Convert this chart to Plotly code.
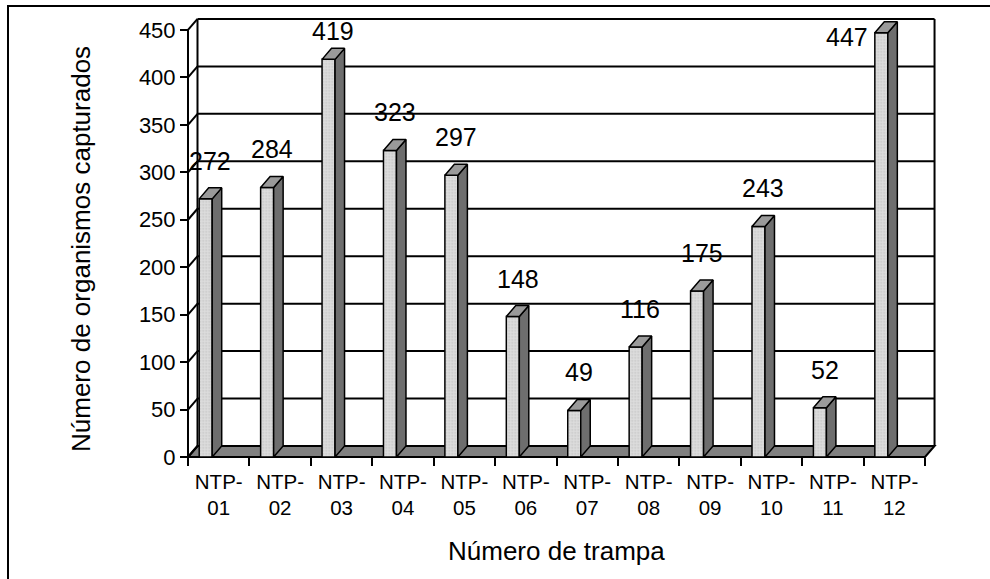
import plotly.graph_objects as go

# ---- data ----
categories = ["NTP-01", "NTP-02", "NTP-03", "NTP-04", "NTP-05", "NTP-06",
              "NTP-07", "NTP-08", "NTP-09", "NTP-10", "NTP-11", "NTP-12"]
counts = [272, 284, 419, 323, 297, 148, 49, 116, 175, 243, 52, 447]
y_ticks = [0, 50, 100, 150, 200, 250, 300, 350, 400, 450]
y_title = "Número de organismos capturados"
x_title = "Número de trampa"

# ---- geometry (pixel calibration of the pseudo-3D frame) ----
W, H = 990, 579
X0PX, PXX = 188.0, 61.42     # px of x=-0.5, px per category
Y0PX, PXY = 457.0, 0.949     # px of y=0, px per unit
DX = 9.5 / PXX               # depth offset in x units
DY = 11.0 / PXY              # depth offset in y units
FRONT_OFF = -13.0 / PXX      # bar front-face centre offset from category centre
BAR_W = 13.0 / PXX           # bar front-face width
LABEL_GAP = 38               # px from column front top to label centre
LABEL_MIN_PX = 31            # highest allowed label centre (px from top)

n = len(categories)
xs = list(range(n))
ytop = max(y_ticks)
xr = [-0.62, n - 0.5 + DX + 0.1]
yr = [-10, ytop + DY + 8]


def px_x(v):
    return X0PX + (v + 0.5) * PXX


def px_y(v):
    return Y0PX - v * PXY


dom_x = [px_x(xr[0]) / W, px_x(xr[1]) / W]
dom_y = [1 - px_y(yr[0]) / H, 1 - px_y(yr[1]) / H]

FONT = "Liberation Sans, Arial, sans-serif"
LW = 2

shapes = []
xl, xrgt = -0.5, n - 0.5
# floor
shapes.append(dict(type="path", xref="x", yref="y", layer="below",
                   path=f"M {xl},0 L {xrgt},0 L {xrgt+DX},{DY} L {xl+DX},{DY} Z",
                   fillcolor="#808080", line=dict(color="black", width=LW)))
# back wall gridlines
for g in y_ticks[1:]:
    shapes.append(dict(type="line", xref="x", yref="y", layer="below",
                       x0=xl + DX, x1=xrgt + DX, y0=g + DY, y1=g + DY,
                       line=dict(color="black", width=LW)))
# back wall edges
for xe in (xl + DX, xrgt + DX):
    shapes.append(dict(type="line", xref="x", yref="y", layer="below",
                       x0=xe, x1=xe, y0=DY, y1=ytop + DY,
                       line=dict(color="black", width=LW)))
# left wall front edge
shapes.append(dict(type="line", xref="x", yref="y", layer="below",
                   x0=xl, x1=xl, y0=0, y1=ytop,
                   line=dict(color="black", width=LW)))
# left wall diagonals
for g in y_ticks:
    shapes.append(dict(type="line", xref="x", yref="y", layer="below",
                       x0=xl, x1=xl + DX, y0=g, y1=g + DY,
                       line=dict(color="black", width=LW)))
# outer chart border
shapes.append(dict(type="rect", xref="paper", yref="paper",
                   x0=8 / W, x1=1.05, y0=-0.05, y1=1 - 6 / H,
                   line=dict(color="black", width=LW), layer="below"))

fig = go.Figure()

# front faces of the columns
fig.add_trace(go.Bar(
    x=[i + FRONT_OFF for i in xs], y=counts, width=BAR_W,
    marker=dict(color="#d6d6d6", line=dict(color="black", width=1.5),
                pattern=dict(shape=".", fgcolor="#a8a8a8", bgcolor="#dcdcdc",
                             size=3, solidity=0.25)),
    hoverinfo="skip", showlegend=False))

# side and top faces
sx, sy = [], []
tx, ty = [], []
for i, v in zip(xs, counts):
    x0 = i + FRONT_OFF - BAR_W / 2
    x1 = i + FRONT_OFF + BAR_W / 2
    sx += [x1, x1 + DX, x1 + DX, x1, x1, None]
    sy += [0, DY, v + DY, v, 0, None]
    tx += [x0, x1, x1 + DX, x0 + DX, x0, None]
    ty += [v, v, v + DY, v + DY, v, None]
fig.add_trace(go.Scatter(x=sx, y=sy, mode="lines", fill="toself",
                         fillcolor="#6e6e6e", line=dict(color="black", width=1.5),
                         hoverinfo="skip", showlegend=False))
fig.add_trace(go.Scatter(x=tx, y=ty, mode="lines", fill="toself",
                         fillcolor="#9a9a9a", line=dict(color="black", width=1.5),
                         hoverinfo="skip", showlegend=False))

# dummy trace for label axis
fig.add_trace(go.Scatter(x=xs, y=[None] * n, xaxis="x2", yaxis="y",
                         mode="markers", hoverinfo="skip", showlegend=False))

# data labels
LABEL_FONT = dict(family=FONT, size=25, color="black")
annotations = []
for i, v in zip(xs, counts):
    x0 = i + FRONT_OFF - BAR_W / 2
    centre_px = px_y(v) - LABEL_GAP
    if centre_px < LABEL_MIN_PX - 20:
        # no room above: place beside the column (left)
        annotations.append(dict(x=x0, y=v, xref="x", yref="y", text=str(v),
                                showarrow=False, xanchor="right", yanchor="middle",
                                xshift=-5, yshift=-4, font=LABEL_FONT))
    else:
        gap = LABEL_GAP - max(0, LABEL_MIN_PX - centre_px)
        annotations.append(dict(x=i + FRONT_OFF + DX / 2, y=v + DY, xref="x", yref="y",
                                text=str(v), showarrow=False,
                                xanchor="center", yanchor="middle",
                                yshift=gap - DY * PXY, font=LABEL_FONT))
# axis titles
TITLE_FONT = dict(family=FONT, size=26, color="black")
annotations.append(dict(x=81 / W, y=1 - 249 / H, xref="paper", yref="paper",
                        text=y_title, textangle=-90, showarrow=False,
                        xanchor="center", yanchor="middle", font=TITLE_FONT))
annotations.append(dict(x=556 / W, y=1 - 551 / H, xref="paper", yref="paper",
                        text=x_title, showarrow=False,
                        xanchor="center", yanchor="middle", font=TITLE_FONT))

ticklabels = [c.replace("-", "-<br>") for c in categories]

fig.update_layout(
    width=W, height=H,
    margin=dict(l=0, r=0, t=0, b=0, autoexpand=False),
    paper_bgcolor="white", plot_bgcolor="rgba(0,0,0,0)",
    font=dict(family=FONT, color="black"),
    shapes=shapes, annotations=annotations, showlegend=False,
    bargap=0,
    xaxis=dict(domain=dom_x, range=xr, anchor="free", position=1 - Y0PX / H,
               tickmode="array", tickvals=[i - 0.5 for i in range(n + 1)],
               showticklabels=False, ticks="outside", ticklen=8, tickwidth=2,
               tickcolor="black", showgrid=False, zeroline=False, showline=False,
               fixedrange=True),
    xaxis2=dict(overlaying="x", range=xr, anchor="free", position=1 - Y0PX / H,
                tickmode="array", tickvals=xs, ticktext=ticklabels,
                ticks="outside", ticklen=6, tickcolor="rgba(0,0,0,0)",
                tickfont=dict(family=FONT, size=20.5, color="black"),
                showgrid=False, zeroline=False, showline=False, fixedrange=True),
    yaxis=dict(domain=dom_y, range=yr, anchor="free", position=X0PX / W,
               tickmode="array", tickvals=y_ticks,
               ticks="outside", ticklen=8, tickwidth=2, tickcolor="black",
               tickfont=dict(family=FONT, size=22, color="black"),
               showgrid=False, zeroline=False, showline=False, fixedrange=True),
)

fig.write_html("out.html", config={"displayModeBar": False, "staticPlot": True},
               post_script="document.body.style.margin='0';document.body.style.overflow='hidden';")
